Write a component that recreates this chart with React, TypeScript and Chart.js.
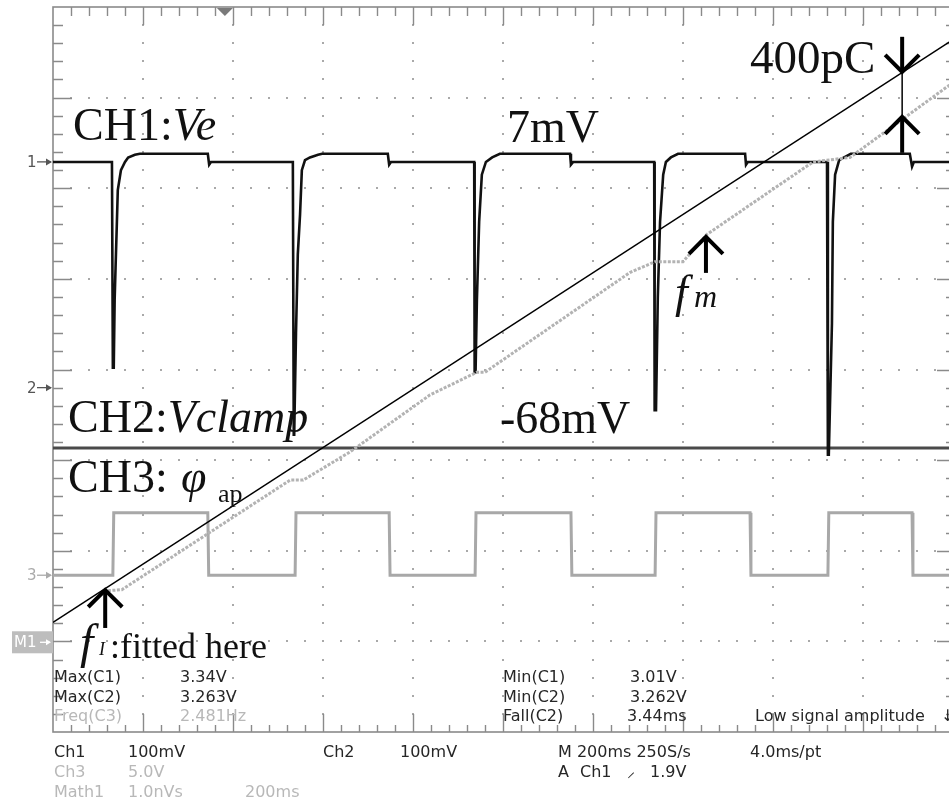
import { useEffect, useRef } from 'react';
import { Chart, registerables } from 'chart.js';

Chart.register(...registerables);

// Horizontal axis: time in ms (200 ms/div, 10 div). Vertical axis: screen divisions (0 bottom .. 8 top).
const TIME_MIN = 0;
const TIME_MAX = 2000;
const DIV_MIN = 0;
const DIV_MAX = 8;

// CH1: Ve (black)
const ch1Time = [
  0, 131, 133, 135, 137, 139, 142, 144, 151, 160, 167, 182, 193, 344, 347, 351,
  533, 535, 536, 540, 544, 549, 553, 560, 571, 589, 598, 744, 747, 751,
  936, 937, 939, 942, 947, 953, 962, 976, 993, 1149, 1151, 1156,
  1336, 1337, 1340, 1344, 1349, 1356, 1362, 1373, 1389, 1538, 1540, 1544,
  1720, 1722, 1724, 1731, 1733, 1738, 1747, 1758, 1773, 1904, 1909, 1913, 2000,
];
const ch1Div = [
  6.29, 6.29, 4.02, 4.02, 4.77, 5.12, 5.63, 5.98, 6.2, 6.29, 6.34, 6.37, 6.38, 6.38, 6.26, 6.29,
  6.29, 3.28, 3.28, 4.4, 5.27, 5.71, 6.2, 6.31, 6.34, 6.37, 6.38, 6.38, 6.26, 6.29,
  6.29, 3.97, 3.97, 4.77, 5.63, 6.15, 6.29, 6.34, 6.38, 6.38, 6.26, 6.29,
  6.29, 3.55, 3.55, 4.8, 5.63, 6.15, 6.29, 6.34, 6.38, 6.38, 6.26, 6.29,
  6.29, 3.06, 3.06, 4.51, 5.63, 6.15, 6.31, 6.34, 6.38, 6.38, 6.24, 6.29, 6.29,
];

// CH2: Vclamp (dark grey, flat)
const ch2Time = [0, 2000];
const ch2Div = [3.135, 3.135];

// CH3: phi_ap (light grey square wave)
const ch3Time = [
  0, 133, 135, 344, 346, 538, 540, 747, 749, 938, 940, 1151, 1153,
  1338, 1340, 1549, 1551, 1722, 1724, 1909, 1911, 2000,
];
const ch3Div = [
  1.73, 1.73, 2.42, 2.42, 1.73, 1.73, 2.42, 2.42, 1.73, 1.73, 2.42, 2.42, 1.73,
  1.73, 2.42, 2.42, 1.73, 1.73, 2.42, 2.42, 1.73, 1.73,
];

// Math1: integrated charge (grey staircase)
const mathTime = [122, 153, 527, 556, 660, 838, 942, 960, 1282, 1338, 1400, 1453, 1609, 1689, 1771, 1987, 2000];
const mathDiv = [1.56, 1.57, 2.78, 2.78, 3.09, 3.72, 3.97, 3.97, 5.07, 5.19, 5.19, 5.49, 6.02, 6.29, 6.34, 7.12, 7.16];

// Fitted line (black, thin)
const fitTime = [0, 2000];
const fitDiv = [1.21, 7.64];

// Annotation arrows: time, tip, tail (divisions)
const arrowTime = [116, 1451, 1887, 1887];
const arrowTip = [1.567, 5.464, 7.285, 6.788];
const arrowTail = [1.148, 5.066, 7.671, 6.391];

const SERIF = '"Liberation Serif", "Times New Roman", serif';
const SANS = '"DejaVu Sans", "Liberation Sans", sans-serif';
const DARK = '#262626';
const LIGHT = '#b8b8b8';

type Part = { t: string; f: string; dx?: number; dy?: number };
const bigLabels: { x: number; y: number; parts: Part[] }[] = [
  { x: 73, y: 140, parts: [{ t: 'CH1:', f: `46px ${SERIF}` }, { t: 'Ve', f: `italic 46px ${SERIF}` }] },
  { x: 507, y: 142, parts: [{ t: '7mV', f: `46px ${SERIF}` }] },
  { x: 750, y: 73, parts: [{ t: '400pC', f: `47px ${SERIF}` }] },
  { x: 68, y: 432, parts: [{ t: 'CH2:', f: `46px ${SERIF}` }, { t: 'Vclamp', f: `italic 46px ${SERIF}` }] },
  { x: 500, y: 433, parts: [{ t: '-68mV', f: `46px ${SERIF}` }] },
  { x: 68, y: 492, parts: [{ t: 'CH3:', f: `46px ${SERIF}` }] },
  { x: 181, y: 492, parts: [{ t: 'φ', f: `italic 46px ${SERIF}` }] },
  { x: 218, y: 502, parts: [{ t: 'ap', f: `26px ${SERIF}` }] },
  { x: 675, y: 307, parts: [{ t: 'f', f: `italic 46px ${SERIF}` }] },
  { x: 694, y: 307, parts: [{ t: 'm', f: `italic 32px ${SERIF}` }] },
  { x: 80, y: 658, parts: [{ t: 'f', f: `italic 48px ${SERIF}` }] },
  { x: 99, y: 655, parts: [{ t: 'I', f: `italic 18px ${SERIF}` }] },
  { x: 110, y: 658, parts: [{ t: ':fitted here', f: `36px ${SERIF}` }] },
];

const readouts: { x: number; y: number; t: string; c: string }[] = [
  { x: 54, y: 682, t: 'Max(C1)', c: DARK },
  { x: 180, y: 682, t: '3.34V', c: DARK },
  { x: 54, y: 702, t: 'Max(C2)', c: DARK },
  { x: 180, y: 702, t: '3.263V', c: DARK },
  { x: 54, y: 721, t: 'Freq(C3)', c: LIGHT },
  { x: 180, y: 721, t: '2.481Hz', c: LIGHT },
  { x: 503, y: 682, t: 'Min(C1)', c: DARK },
  { x: 630, y: 682, t: '3.01V', c: DARK },
  { x: 503, y: 702, t: 'Min(C2)', c: DARK },
  { x: 630, y: 702, t: '3.262V', c: DARK },
  { x: 503, y: 721, t: 'Fall(C2)', c: DARK },
  { x: 627, y: 721, t: '3.44ms', c: DARK },
  { x: 755, y: 721, t: 'Low signal amplitude', c: DARK },
  { x: 941, y: 721, t: '↓', c: DARK },
  { x: 54, y: 757, t: 'Ch1', c: DARK },
  { x: 128, y: 757, t: '100mV', c: DARK },
  { x: 323, y: 757, t: 'Ch2', c: DARK },
  { x: 400, y: 757, t: '100mV', c: DARK },
  { x: 558, y: 757, t: 'M 200ms 250S/s', c: DARK },
  { x: 750, y: 757, t: '4.0ms/pt', c: DARK },
  { x: 54, y: 777, t: 'Ch3', c: LIGHT },
  { x: 128, y: 777, t: '5.0V', c: LIGHT },
  { x: 558, y: 777, t: 'A', c: DARK },
  { x: 580, y: 777, t: 'Ch1', c: DARK },
  { x: 627, y: 777, t: '⸝', c: DARK },
  { x: 650, y: 777, t: '1.9V', c: DARK },
  { x: 54, y: 797, t: 'Math1', c: LIGHT },
  { x: 128, y: 797, t: '1.0nVs', c: LIGHT },
  { x: 245, y: 797, t: '200ms', c: LIGHT },
];

// channel reference markers (divisions)
const markerDiv = [6.291, 3.8, 1.73];
const markerText = ['1', '2', '3'];
const markerColor = ['#555', '#555', '#aaa'];
const mathMarkerDiv = 0.99;
const triggerTime = 382;

const scopePlugin = {
  id: 'scopeDecor',
  beforeDraw(chart: any) {
    const { ctx, chartArea: a, scales } = chart;
    const xs = scales.x;
    const ys = scales.y;
    ctx.save();
    ctx.fillStyle = '#fff';
    ctx.fillRect(0, 0, chart.width, chart.height);

    // grid dots along major lines
    ctx.fillStyle = '#a9a9a9';
    for (let k = 1; k < 10; k++) {
      const x = xs.getPixelForValue(k * 200);
      for (let i = 1; i < 40; i++) {
        const y = ys.getPixelForValue(i * 0.2);
        ctx.fillRect(Math.round(x) - 1, Math.round(y) - 1, 2, 2);
      }
    }
    for (let k = 1; k < 8; k++) {
      const y = ys.getPixelForValue(k);
      for (let i = 1; i < 50; i++) {
        const x = xs.getPixelForValue(i * 40);
        ctx.fillRect(Math.round(x) - 1, Math.round(y) - 1, 2, 2);
      }
    }

    // border
    ctx.strokeStyle = '#8a8a8a';
    ctx.lineWidth = 1.6;
    ctx.strokeRect(a.left, a.top, a.right - a.left, a.bottom - a.top);

    // border ticks
    ctx.lineWidth = 1.4;
    ctx.beginPath();
    for (let i = 1; i < 50; i++) {
      const x = Math.round(xs.getPixelForValue(i * 40)) + 0.5;
      const major = i % 5 === 0;
      ctx.moveTo(x, a.top);
      ctx.lineTo(x, a.top + (major ? 18 : 9));
      ctx.moveTo(x, a.bottom);
      ctx.lineTo(x, a.bottom - (major ? 18 : 7));
    }
    for (let i = 1; i < 40; i++) {
      const y = Math.round(ys.getPixelForValue(i * 0.2)) + 0.5;
      const major = i % 5 === 0;
      ctx.moveTo(a.left, y);
      ctx.lineTo(a.left + (major ? 19 : 10), y);
      ctx.moveTo(a.right, y);
      ctx.lineTo(a.right - (major ? 16 : 7), y);
    }
    ctx.stroke();

    // trigger position marker
    const tx = xs.getPixelForValue(triggerTime);
    ctx.fillStyle = '#7a7a7a';
    ctx.beginPath();
    ctx.moveTo(tx - 8, a.top + 1);
    ctx.lineTo(tx + 8, a.top + 1);
    ctx.lineTo(tx, a.top + 9);
    ctx.closePath();
    ctx.fill();

    // channel markers
    ctx.font = `15px ${SANS}`;
    ctx.textBaseline = 'middle';
    for (let i = 0; i < markerDiv.length; i++) {
      const y = ys.getPixelForValue(markerDiv[i]);
      ctx.fillStyle = markerColor[i];
      ctx.strokeStyle = markerColor[i];
      ctx.fillText(markerText[i], 27, y + 1);
      ctx.lineWidth = 1.3;
      ctx.beginPath();
      ctx.moveTo(37, y);
      ctx.lineTo(a.left - 2, y);
      ctx.stroke();
      ctx.beginPath();
      ctx.moveTo(a.left - 1, y);
      ctx.lineTo(a.left - 7, y - 3.5);
      ctx.lineTo(a.left - 7, y + 3.5);
      ctx.closePath();
      ctx.fill();
    }
    const my = ys.getPixelForValue(mathMarkerDiv);
    ctx.fillStyle = '#bdbdbd';
    ctx.fillRect(12, my - 11, a.left - 12, 22);
    ctx.fillStyle = '#fff';
    ctx.strokeStyle = '#fff';
    ctx.fillText('M1', 14, my + 1);
    ctx.beginPath();
    ctx.moveTo(40, my);
    ctx.lineTo(a.left - 3, my);
    ctx.stroke();
    ctx.beginPath();
    ctx.moveTo(a.left - 2, my);
    ctx.lineTo(a.left - 7, my - 3);
    ctx.lineTo(a.left - 7, my + 3);
    ctx.closePath();
    ctx.fill();
    ctx.restore();
  },
  afterDatasetsDraw(chart: any) {
    const { ctx, scales } = chart;
    const xs = scales.x;
    const ys = scales.y;
    ctx.save();

    // arrows
    ctx.strokeStyle = '#000';
    ctx.lineCap = 'butt';
    ctx.lineJoin = 'miter';
    for (let i = 0; i < arrowTime.length; i++) {
      const x = xs.getPixelForValue(arrowTime[i]);
      const yTip = ys.getPixelForValue(arrowTip[i]);
      const yTail = ys.getPixelForValue(arrowTail[i]);
      const dir = yTail > yTip ? 1 : -1;
      ctx.lineWidth = 4;
      ctx.beginPath();
      ctx.moveTo(x, yTail);
      ctx.lineTo(x, yTip + dir * 2);
      ctx.stroke();
      ctx.beginPath();
      ctx.moveTo(x - 17, yTip + dir * 17);
      ctx.lineTo(x, yTip);
      ctx.lineTo(x + 17, yTip + dir * 17);
      ctx.stroke();
    }
    // thin connector between the 400pC arrows
    {
      const x = xs.getPixelForValue(arrowTime[2]);
      ctx.lineWidth = 1.5;
      ctx.beginPath();
      ctx.moveTo(x, ys.getPixelForValue(arrowTip[2]));
      ctx.lineTo(x, ys.getPixelForValue(arrowTip[3]));
      ctx.stroke();
    }

    // large labels
    ctx.fillStyle = '#111';
    ctx.textBaseline = 'alphabetic';
    for (const lab of bigLabels) {
      let x = lab.x;
      for (const p of lab.parts) {
        ctx.font = p.f;
        ctx.fillText(p.t, x, lab.y);
        x += ctx.measureText(p.t).width;
      }
    }

    // readouts
    ctx.font = `16px ${SANS}`;
    for (const r of readouts) {
      ctx.fillStyle = r.c;
      ctx.fillText(r.t, r.x, r.y);
    }
    ctx.restore();
  },
};

export default function App() {
  const ref = useRef<HTMLCanvasElement>(null);
  useEffect(() => {
    const pts = (ts: number[], vs: number[]) => ts.map((t, i) => ({ x: t, y: vs[i] }));
    const chart = new Chart(ref.current as HTMLCanvasElement, {
      type: 'line',
      data: {
        datasets: [
          {
            label: 'Math1',
            data: pts(mathTime, mathDiv),
            borderColor: '#b3b3b3',
            borderWidth: 3,
            borderDash: [3, 1.5],
          },
          {
            label: 'fit',
            data: pts(fitTime, fitDiv),
            borderColor: '#000',
            borderWidth: 1.4,
          },
          {
            label: 'CH1',
            data: pts(ch1Time, ch1Div),
            borderColor: '#111',
            borderWidth: 2.6,
          },
          {
            label: 'CH2',
            data: pts(ch2Time, ch2Div),
            borderColor: '#4a4a4a',
            borderWidth: 3,
          },
          {
            label: 'CH3',
            data: pts(ch3Time, ch3Div),
            borderColor: '#a8a8a8',
            borderWidth: 3,
          },
        ],
      } as any,
      options: {
        responsive: false,
        animation: false,
        devicePixelRatio: 1,
        events: [],
        layout: { padding: { left: 53, top: 7, right: 7, bottom: 71 }, autoPadding: false },
        scales: {
          x: { type: 'linear', min: TIME_MIN, max: TIME_MAX, display: false },
          y: { type: 'linear', min: DIV_MIN, max: DIV_MAX, display: false },
        },
        elements: { point: { radius: 0 }, line: { tension: 0, borderJoinStyle: 'miter' } },
        plugins: { legend: { display: false }, tooltip: { enabled: false } },
      } as any,
      plugins: [scopePlugin],
    });
    return () => chart.destroy();
  }, []);
  return (
    <div
      style={{
        position: 'fixed',
        left: 0,
        top: 0,
        width: 949,
        height: 803,
        overflow: 'hidden',
        background: '#fff',
      }}
    >
      <canvas ref={ref} width={960} height={803} style={{ display: 'block', width: 960, height: 803 }} />
    </div>
  );
}
